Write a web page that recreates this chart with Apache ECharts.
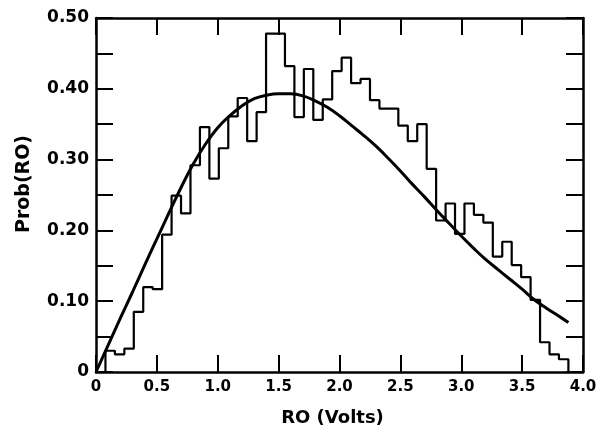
<!DOCTYPE html>
<html>
<head>
<meta charset="utf-8">
<script src="https://cdn.jsdelivr.net/npm/echarts@6/dist/echarts.min.js"></script>
<style>
  html, body { margin: 0; padding: 0; background: #fff; }
  #chart { width: 609px; height: 432px; }
</style>
</head>
<body>
<div id="chart"></div>
<script>
// histogram: 50 bins of equal width starting at 0 V
var binWidth = 0.0776;
var histValues = [
    0, 0.030, 0.025, 0.033, 0.085, 0.120, 0.117, 0.194, 0.249, 0.224,
    0.292, 0.346, 0.273, 0.316, 0.361, 0.387, 0.326, 0.367, 0.478, 0.478,
    0.432, 0.360, 0.428, 0.356, 0.385, 0.425, 0.444, 0.408, 0.414, 0.384,
    0.372, 0.372, 0.348, 0.326, 0.350, 0.287, 0.214, 0.238, 0.195, 0.238,
    0.222, 0.211, 0.163, 0.184, 0.151, 0.134, 0.102, 0.042, 0.025, 0.018
];

// fitted curve
var curveX = [0, 0.1, 0.2, 0.3, 0.4, 0.5, 0.6, 0.7, 0.8, 0.9, 1.0, 1.1, 1.2, 1.3, 1.4,
    1.5, 1.6, 1.7, 1.8, 1.9, 2.0, 2.1, 2.2, 2.3, 2.4, 2.5, 2.6, 2.7, 2.8, 2.9,
    3.0, 3.1, 3.2, 3.3, 3.4, 3.5, 3.6, 3.7, 3.8, 3.88];
var curveY = [0, 0.038, 0.076, 0.113, 0.151, 0.188, 0.225, 0.261, 0.294, 0.322,
    0.345, 0.362, 0.376, 0.386, 0.391, 0.393, 0.393, 0.390, 0.383, 0.374,
    0.362, 0.348, 0.334, 0.319, 0.302, 0.284, 0.265, 0.247, 0.228, 0.210,
    0.192, 0.175, 0.159, 0.145, 0.131, 0.117, 0.102, 0.090, 0.079, 0.070];

var xTicks = ['0', '0.5', '1.0', '1.5', '2.0', '2.5', '3.0', '3.5', '4.0'];

var histPoints = [];
histValues.forEach(function (v, i) {
    histPoints.push([i * binWidth, v]);
    histPoints.push([(i + 1) * binWidth, v]);
});
histPoints.push([histValues.length * binWidth, 0]);

var curvePoints = curveX.map(function (x, i) { return [x, curveY[i]]; });

var font = 'DejaVu Sans';
var tickStyle = {show: true, inside: true, length: 17, lineStyle: {color: '#000', width: 2}};
var lineStyle = {show: true, onZero: false, lineStyle: {color: '#000', width: 2.5}};

var option = {
    animation: false,
    backgroundColor: '#fff',
    grid: {left: 96, right: 26, top: 18, bottom: 60},
    xAxis: [
        {
            type: 'value', min: 0, max: 4, interval: 0.5,
            axisLine: lineStyle, axisTick: tickStyle, splitLine: {show: false},
            axisLabel: {
                color: '#000', fontFamily: font, fontWeight: 'bold', fontSize: 15, margin: 8,
                formatter: function (v) { return xTicks[Math.round(v / 0.5)]; }
            },
            name: 'RO (Volts)', nameLocation: 'middle', nameGap: 37,
            nameTextStyle: {color: '#000', fontFamily: font, fontWeight: 'bold', fontSize: 18, padding: [0, 14, 0, 0]}
        },
        {
            type: 'value', position: 'top', min: 0, max: 4, interval: 0.5,
            axisLine: lineStyle, axisTick: tickStyle, splitLine: {show: false},
            axisLabel: {show: false}
        }
    ],
    yAxis: [
        {
            type: 'value', min: 0, max: 0.5, interval: 0.05,
            axisLine: lineStyle, axisTick: tickStyle, splitLine: {show: false},
            axisLabel: {
                color: '#000', fontFamily: font, fontWeight: 'bold', fontSize: 17, margin: 7,
                formatter: function (v) {
                    var t = Math.round(v * 100);
                    if (t === 0) return '0';
                    return t % 10 === 0 ? v.toFixed(2) : '';
                }
            },
            name: 'Prob(RO)', nameLocation: 'middle', nameGap: 62,
            nameTextStyle: {color: '#000', fontFamily: font, fontWeight: 'bold', fontSize: 19, padding: [0, 0, 0, 22]}
        },
        {
            type: 'value', position: 'right', min: 0, max: 0.5, interval: 0.05,
            axisLine: lineStyle, axisTick: tickStyle, splitLine: {show: false},
            axisLabel: {show: false}
        }
    ],
    series: [
        {
            name: 'histogram',
            type: 'line',
            data: histPoints,
            showSymbol: false,
            lineStyle: {color: '#000', width: 2.2},
            z: 3
        },
        {
            name: 'curve',
            type: 'line',
            data: curvePoints,
            smooth: 0.4,
            showSymbol: false,
            lineStyle: {color: '#000', width: 3},
            z: 4
        }
    ]
};

var chart = echarts.init(document.getElementById('chart'));
chart.setOption(option);
</script>
</body>
</html>
